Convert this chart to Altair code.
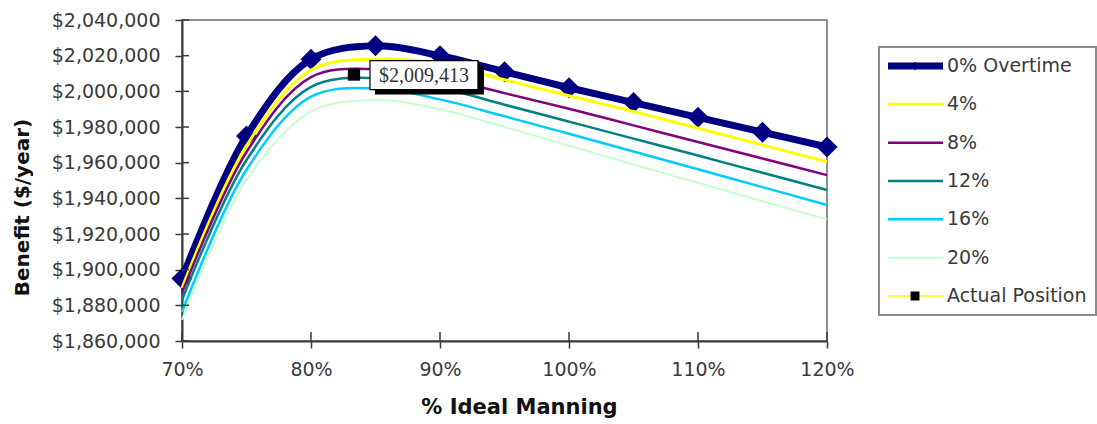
import altair as alt
import pandas as pd

# % of ideal manning (x) and annual benefit for each overtime level (y)
manning = [70, 75, 80, 85, 90, 95, 100, 105, 110, 115, 120]
ot0 = [1895000, 1975000, 2018000, 2025500, 2020000, 2011000, 2002000, 1993700, 1985400, 1977100, 1968800]
ot4 = [1889700, 1969500, 2012000, 2018000, 2015500, 2006500, 1997500, 1988700, 1979300, 1969900, 1960500]
ot8 = [1887000, 1966000, 2008000, 2012500, 2007500, 1999000, 1990200, 1980900, 1971600, 1962300, 1953000]
ot12 = [1883000, 1961500, 2002500, 2007500, 2002000, 1992500, 1983000, 1973500, 1964000, 1954300, 1944700]
ot16 = [1876300, 1956000, 1997000, 2001700, 1995500, 1986000, 1976200, 1966300, 1956300, 1946300, 1936300]
ot20 = [1871800, 1950500, 1988600, 1995100, 1990000, 1980000, 1969500, 1959000, 1948700, 1938400, 1928200]

# current operating point
actual_manning = [83.33]
actual_benefit = [2009413]

series_names = ["0% Overtime", "4%", "8%", "12%", "16%", "20%", "Actual Position"]
series_colors = ["#000080", "#FFFF00", "#800080", "#008080", "#00CCFF", "#C6FFCE", "#FFFF00"]
series_widths = [7, 3, 2.5, 2.5, 2.5, 2, 1.5]
series_values = [ot0, ot4, ot8, ot12, ot16, ot20]

y_ticks = list(range(1860000, 2040001, 20000))
x_ticks = [70, 80, 90, 100, 110, 120]

W, H = 645, 321
FONT = "DejaVu Sans"
AX = "#3a3a3a"
LBL = "#3a3a3a"

x_scale = alt.Scale(domain=[70, 120], nice=False, zero=False)
y_scale = alt.Scale(domain=[1860000, 2040000], nice=False, zero=False)

x_axis = alt.Axis(
    values=x_ticks, labelExpr="datum.value + '%'", title="% Ideal Manning", grid=False,
    tickSize=7, tickWidth=1.5, tickColor=AX, domainColor=AX, domainWidth=2,
    labelFont=FONT, labelFontSize=19, labelColor=LBL, labelPadding=12,
    labelFlush=False, labelOverlap=False,
    titleFont=FONT, titleFontSize=21, titleFontWeight="bold", titleColor="#111111",
    titleX=337, titleY=66, titleBaseline="middle",
)
y_axis = alt.Axis(
    values=y_ticks, format="$,.0f", title="Benefit ($/year)", grid=False,
    tickSize=7, tickWidth=1.5, tickColor=AX, domainColor=AX, domainWidth=2,
    labelFont=FONT, labelFontSize=19, labelColor=LBL, labelPadding=15, labelOverlap=False,
    titleFont=FONT, titleFontSize=20, titleFontWeight="bold", titleColor="#111111",
    titleAngle=270, titleX=-160, titleY=187, titleBaseline="middle",
)


def xenc(field):
    return alt.X(f"{field}:Q", scale=x_scale, axis=x_axis)


def yenc(field):
    return alt.Y(f"{field}:Q", scale=y_scale, axis=y_axis)


layers = []

# smoothed curves: 0% overtime first (with its diamond markers), the others on top
for i, vals in enumerate(series_values):
    df = pd.DataFrame({"manning": manning, "benefit": vals})
    line = alt.Chart(df).mark_line(
        color=series_colors[i], strokeWidth=series_widths[i], interpolate="catmull-rom"
    ).encode(x=xenc("manning"), y=yenc("benefit"))
    layers.append(line)
    if i == 0:
        layers.append(
            alt.Chart(df).mark_point(
                shape="diamond", filled=True, size=441, color=series_colors[0], opacity=1
            ).encode(x=xenc("manning"), y=yenc("benefit"))
        )

# inward half of the cross tick marks
ytick_df = pd.DataFrame({"v": y_ticks})
xtick_df = pd.DataFrame({"v": x_ticks})
layers.append(
    alt.Chart(ytick_df).mark_rule(color=AX, strokeWidth=1.5).encode(
        y=yenc("v"), x=alt.value(0), x2=alt.value(7)
    )
)
layers.append(
    alt.Chart(xtick_df).mark_rule(color=AX, strokeWidth=1.5).encode(
        x=xenc("v"), y=alt.value(H - 9), y2=alt.value(H)
    )
)

# actual position marker and its value callout
act_df = pd.DataFrame({"manning": actual_manning, "benefit": actual_benefit})
callout_shadow = alt.Chart(act_df).mark_rect(
    fill="black", xOffset=21, x2Offset=130, yOffset=-9, y2Offset=20
).encode(x=xenc("manning"), x2=alt.X2("manning"), y=yenc("benefit"), y2=alt.Y2("benefit"))
callout_box = alt.Chart(act_df).mark_rect(
    fill="white", stroke="black", strokeWidth=1.2, xOffset=16, x2Offset=124, yOffset=-14, y2Offset=15
).encode(x=xenc("manning"), x2=alt.X2("manning"), y=yenc("benefit"), y2=alt.Y2("benefit"))
callout_text = alt.Chart(act_df).mark_text(
    font="Liberation Serif", fontSize=20, color="#333333", align="center", baseline="middle", dx=70, dy=1
).encode(x=xenc("manning"), y=yenc("benefit"), text=alt.Text("benefit:Q", format="$,.0f"))
actual_pt = alt.Chart(act_df).mark_point(
    shape="square", filled=True, size=150, color="black", opacity=1
).encode(x=xenc("manning"), y=yenc("benefit"))
layers += [callout_shadow, callout_box, callout_text, actual_pt]

main = alt.layer(*layers)

# legend panel to the right of the plot
leg_y = alt.Y(
    "name:N",
    scale=alt.Scale(type="point", domain=series_names, range=[46, 276], padding=0),
    axis=None,
)
leg_df = pd.DataFrame({"name": series_names, "color": series_colors, "width": series_widths})
box_df = pd.DataFrame({"k": [0]})
leg_box = alt.Chart(box_df).mark_rect(fill="white", stroke="#8a8a8a", strokeWidth=2).encode(
    x=alt.value(697), x2=alt.value(914), y=alt.value(27), y2=alt.value(295)
)
leg_lines = alt.Chart(leg_df).mark_rule().encode(
    y=leg_y,
    x=alt.value(706), x2=alt.value(761),
    color=alt.Color("name:N", scale=alt.Scale(domain=series_names, range=series_colors), legend=None),
    strokeWidth=alt.StrokeWidth("width:Q", scale=None, legend=None),
)
mk_df = pd.DataFrame({"name": [series_names[0], series_names[-1]],
                      "shape": ["diamond", "square"],
                      "color": ["#000080", "#000000"],
                      "size": [70, 80]})
leg_marks = alt.Chart(mk_df).mark_point(filled=True, opacity=1).encode(
    y=leg_y, x=alt.value(733),
    shape=alt.Shape("shape:N", scale=None, legend=None),
    color=alt.Color("color:N", scale=None, legend=None),
    size=alt.Size("size:Q", scale=None, legend=None),
)
leg_text = alt.Chart(leg_df).mark_text(
    font=FONT, fontSize=19, color="#3a3a3a", align="left", baseline="middle"
).encode(y=leg_y, x=alt.value(765), text="name:N")
legend = alt.layer(leg_box, leg_lines, leg_marks, leg_text)

chart = alt.layer(main, legend).resolve_scale(y="independent", color="independent").properties(
    width=W, height=H,
    autosize=alt.AutoSizeParams(type="none"),
    padding={"left": 182, "top": 20, "right": 270, "bottom": 83},
    background="white",
).configure_view(stroke="#8f8f8f", strokeWidth=2)

chart.save("out.html", embed_options={"renderer": "svg", "actions": False})
